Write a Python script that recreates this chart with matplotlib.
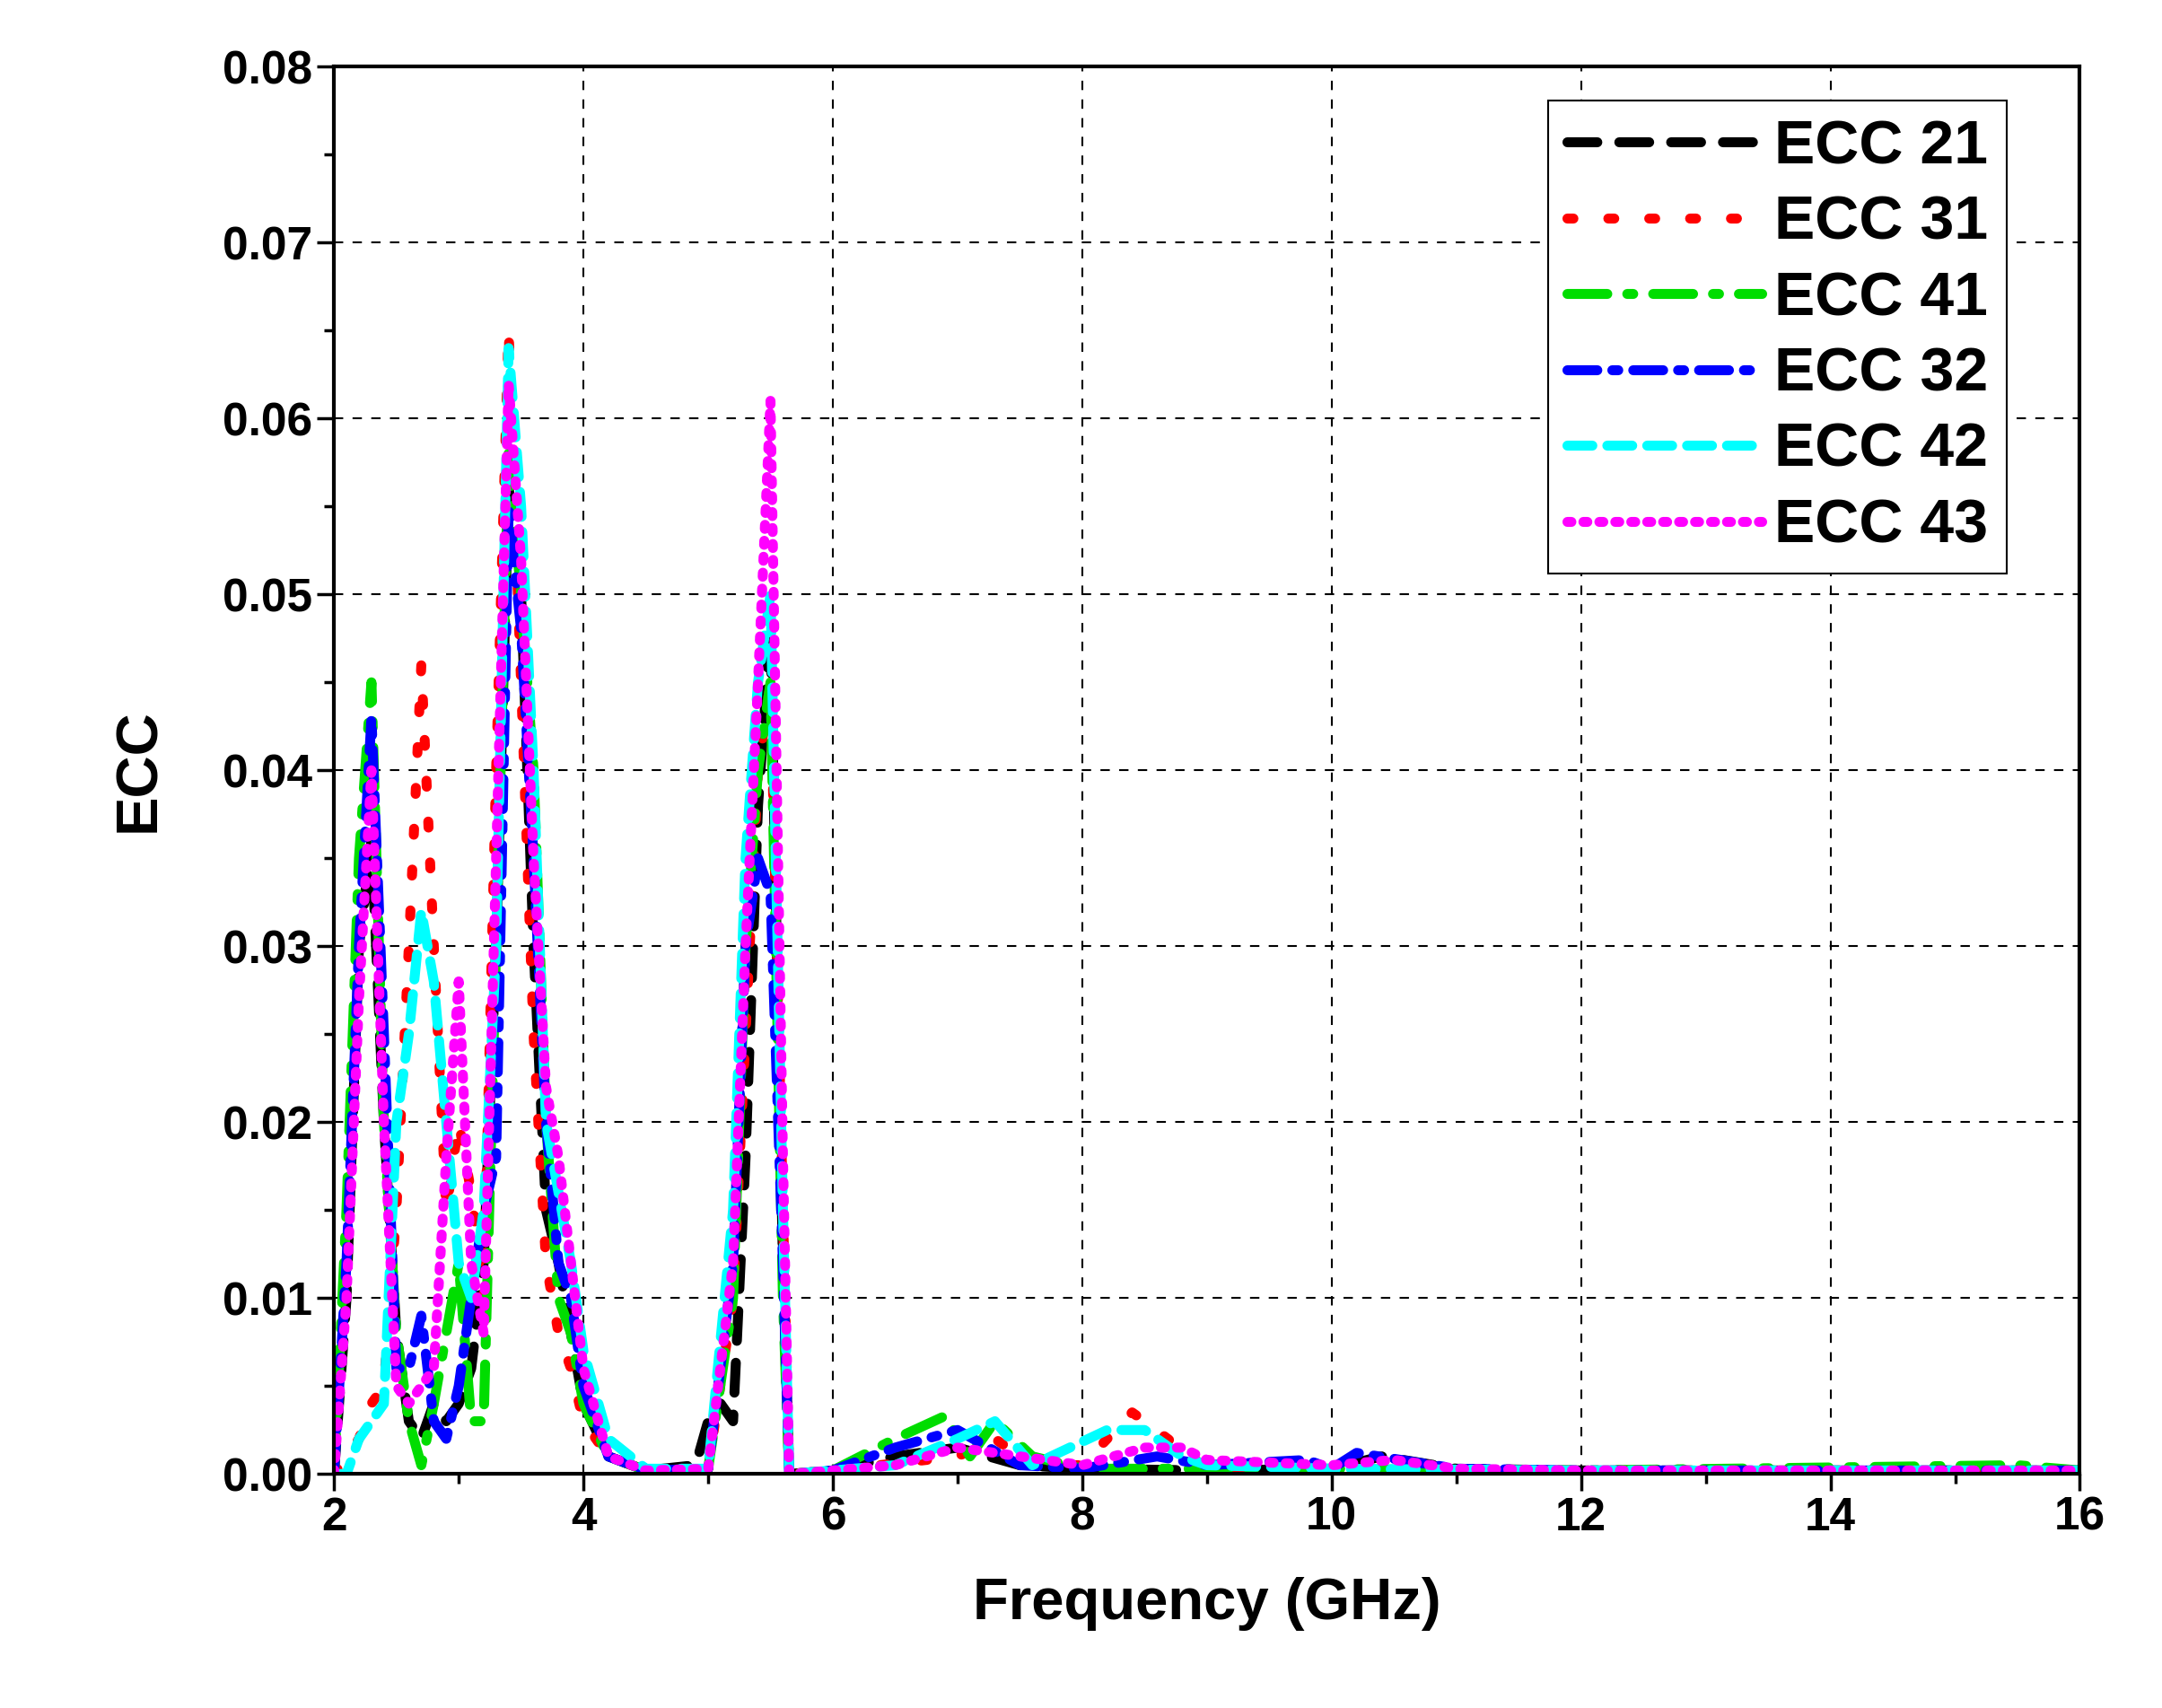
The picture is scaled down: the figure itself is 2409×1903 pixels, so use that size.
import matplotlib
matplotlib.use("Agg")
import matplotlib.pyplot as plt
from matplotlib.ticker import MultipleLocator

plt.rcParams['font.family'] = ['Liberation Sans', 'DejaVu Sans']
plt.rcParams['font.weight'] = 'bold'

f21 = [2.0,2.1,2.2,2.3,2.4,2.5,2.6,2.7,2.8,2.9,3.0,3.1,3.2,3.3,3.4,3.5,3.6,3.7,3.8,3.9,4.0,4.2,4.5,4.9,5.0,5.1,5.2,5.3,5.4,5.5,5.6,5.65,6.0,6.5,7.0,7.5,8.0,9.0,10.0,10.4,11.0,12.0,14.0,16.0]
v21 = [0.0,0.010,0.030,0.036,0.020,0.008,0.003,0.002,0.004,0.003,0.004,0.006,0.012,0.030,0.056,0.050,0.030,0.015,0.012,0.008,0.004,0.001,0.0002,0.0005,0.003,0.004,0.003,0.018,0.038,0.048,0.012,0.0,0.0002,0.001,0.0015,0.0005,0.0003,0.0002,0.0003,0.001,0.0003,0.0002,0.0002,0.0002]
f31 = [2.0,2.1,2.2,2.3,2.4,2.5,2.6,2.7,2.8,2.9,3.0,3.1,3.2,3.3,3.4,3.5,3.6,3.7,3.8,3.9,4.0,4.2,4.5,5.0,5.2,5.3,5.4,5.5,5.6,5.65,6.0,7.0,7.3,7.6,8.0,8.4,8.5,9.0,10.0,11.0,12.0,16.0]
v31 = [0.0,0.001,0.002,0.004,0.005,0.015,0.030,0.046,0.030,0.015,0.020,0.016,0.010,0.040,0.065,0.045,0.025,0.012,0.008,0.006,0.003,0.001,0.0002,0.0003,0.010,0.025,0.040,0.045,0.015,0.0,0.0002,0.001,0.002,0.0005,0.0005,0.0035,0.003,0.0003,0.0003,0.0002,0.0002,0.0002]
f41 = [2.0,2.1,2.2,2.3,2.4,2.5,2.6,2.7,2.8,2.9,3.0,3.1,3.2,3.3,3.4,3.5,3.6,3.7,3.8,3.9,4.0,4.2,4.5,5.0,5.2,5.3,5.4,5.5,5.6,5.65,6.0,6.5,6.9,7.1,7.3,7.6,8.0,9.0,10.0,11.0,12.0,15.5,16.0]
v41 = [0.0,0.015,0.035,0.045,0.020,0.008,0.003,0.0005,0.004,0.008,0.012,0.003,0.003,0.030,0.058,0.050,0.040,0.020,0.010,0.008,0.004,0.001,0.0002,0.0003,0.010,0.030,0.040,0.045,0.010,0.0,0.0002,0.002,0.0033,0.001,0.003,0.001,0.0003,0.0003,0.0003,0.0002,0.0002,0.0005,0.0002]
f32 = [2.0,2.1,2.2,2.3,2.4,2.5,2.6,2.7,2.8,2.9,3.0,3.1,3.2,3.3,3.4,3.5,3.6,3.7,3.8,3.9,4.0,4.2,4.5,5.0,5.2,5.3,5.4,5.5,5.6,5.65,6.0,6.5,7.0,7.5,8.0,8.6,9.0,9.8,10.0,10.2,11.0,12.0,16.0]
v32 = [0.0,0.012,0.030,0.043,0.025,0.006,0.006,0.009,0.003,0.002,0.005,0.010,0.015,0.018,0.055,0.048,0.035,0.020,0.012,0.010,0.005,0.001,0.0002,0.0003,0.012,0.030,0.035,0.033,0.012,0.0,0.0002,0.0015,0.0025,0.0005,0.0003,0.001,0.0005,0.0008,0.0003,0.0012,0.0003,0.0002,0.0002]
f42 = [2.0,2.1,2.2,2.3,2.4,2.5,2.6,2.7,2.8,2.9,3.0,3.1,3.2,3.3,3.4,3.5,3.6,3.7,3.8,3.9,4.0,4.2,4.5,5.0,5.2,5.3,5.4,5.5,5.6,5.65,6.0,6.5,7.0,7.3,7.6,7.9,8.2,8.5,8.8,9.0,10.0,12.0,16.0]
v42 = [0.0,0.0,0.002,0.003,0.004,0.020,0.025,0.032,0.028,0.020,0.012,0.010,0.015,0.030,0.064,0.055,0.040,0.020,0.016,0.012,0.007,0.002,0.0003,0.0003,0.015,0.035,0.045,0.050,0.015,0.0,0.0002,0.0005,0.002,0.003,0.0005,0.0015,0.0025,0.0025,0.001,0.0005,0.0003,0.0002,0.0002]
f43 = [2.0,2.1,2.2,2.3,2.4,2.5,2.6,2.7,2.8,2.9,3.0,3.1,3.2,3.3,3.4,3.5,3.6,3.7,3.8,3.9,4.0,4.2,4.5,5.0,5.2,5.3,5.4,5.5,5.6,5.65,6.0,6.5,7.0,7.5,8.0,8.5,8.8,9.0,10.0,10.5,11.0,12.0,16.0]
v43 = [0.0,0.010,0.027,0.040,0.020,0.005,0.004,0.005,0.006,0.018,0.028,0.012,0.008,0.035,0.062,0.052,0.035,0.022,0.018,0.012,0.006,0.001,0.0002,0.0003,0.012,0.030,0.045,0.061,0.018,0.0,0.0002,0.0005,0.0015,0.001,0.0005,0.0015,0.0015,0.0008,0.0005,0.0008,0.0003,0.0002,0.0002]

series = [
    ("ECC 21", f21, v21, "black", (0, (3, 2.2))),
    ("ECC 31", f31, v31, "red", (0, (0.6, 3.5))),
    ("ECC 41", f41, v41, "#00dd00", (0, (4, 2, 0.6, 2))),
    ("ECC 32", f32, v32, "blue", (0, (3, 1.5, 0.6, 1.5))),
    ("ECC 42", f42, v42, "cyan", (0, (2.5, 1.5))),
    ("ECC 43", f43, v43, "#ff00ff", (0, (0.4, 1.2))),
]

fig = plt.figure(figsize=(24.09, 19.03), dpi=100)
ax = fig.add_axes([0.1545, 0.137, 0.8075, 0.824])
for name, f, v, c, ls in series:
    ax.plot(f, v, color=c, linestyle=ls, lw=8, label=name, dash_capstyle='round')

ax.set_xlim(2, 16)
ax.set_ylim(0, 0.08)
ax.xaxis.set_major_locator(MultipleLocator(2))
ax.xaxis.set_minor_locator(MultipleLocator(1))
ax.yaxis.set_major_locator(MultipleLocator(0.01))
ax.yaxis.set_minor_locator(MultipleLocator(0.005))
ax.yaxis.set_major_formatter(matplotlib.ticker.FormatStrFormatter('%.2f'))
ax.grid(True, which='major', color='black', linestyle=(0, (5, 5)), lw=1.5)
ax.tick_params(which='major', direction='out', length=14, width=2.5, labelsize=37, top=False, right=False)
ax.tick_params(which='minor', direction='out', length=8, width=2.5, top=False, right=False)
for s in ax.spines.values():
    s.set_linewidth(3)
for lab in ax.get_xticklabels() + ax.get_yticklabels():
    lab.set_fontweight('bold')
ax.set_xlabel("Frequency (GHz)", fontsize=47, fontweight='bold', labelpad=30)
ax.set_ylabel("ECC", fontsize=47, fontweight='bold', labelpad=45)
leg = ax.legend(loc='upper right', prop={'weight': 'bold', 'size': 49},
                handlelength=3.2, fancybox=False, edgecolor='black', framealpha=1,
                borderpad=0.3, labelspacing=0.3, handletextpad=0.2, borderaxespad=0,
                bbox_to_anchor=(0.958, 0.976))
leg.get_frame().set_linewidth(1.5)
fig.savefig("out.png", dpi=100)
